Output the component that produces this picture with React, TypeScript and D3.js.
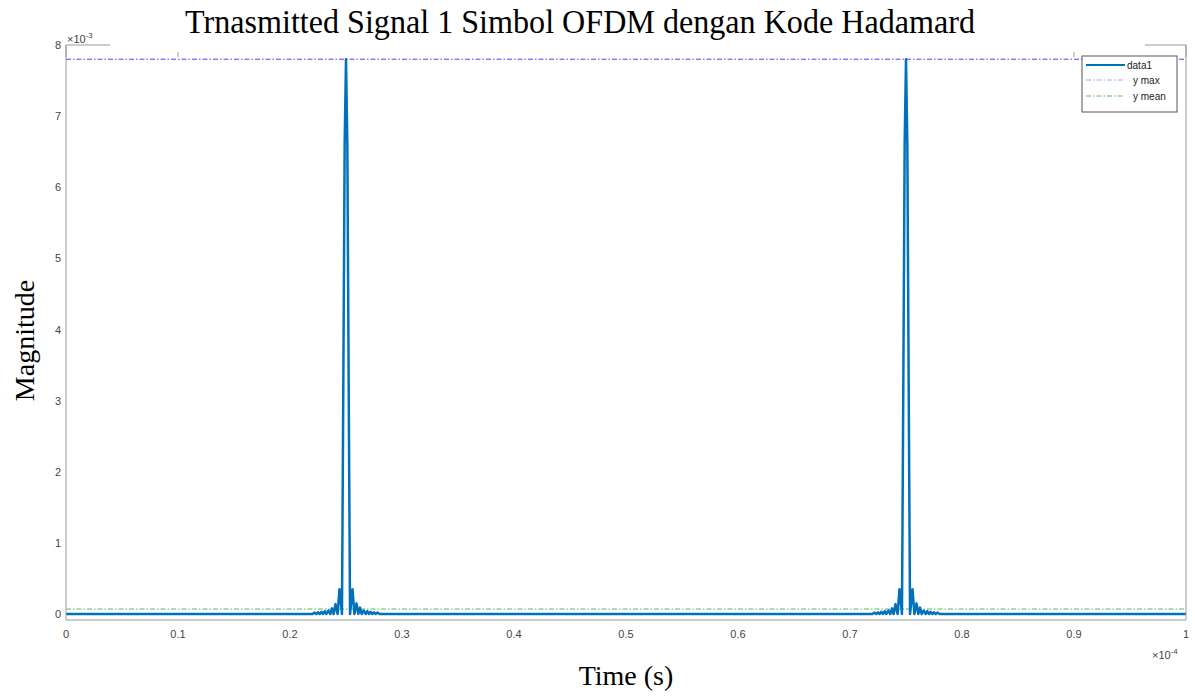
import React from "react";
import * as d3 from "d3";

// Time axis values are in units of 1e-4 s, magnitudes in units of 1e-3.
const xTicks = [0, 0.1, 0.2, 0.3, 0.4, 0.5, 0.6, 0.7, 0.8, 0.9, 1];
const yTicks = [0, 1, 2, 3, 4, 5, 6, 7, 8];

// Centres of the two pulses in the symbol.
const pulseCenters = [0.25, 0.75];

// Sample offsets around each pulse centre and the magnitude at each offset.
const pulseOffsets = [
  -0.03, -0.028, -0.0265, -0.025, -0.0235, -0.022, -0.0205, -0.019, -0.0175,
  -0.0158, -0.014, -0.0125, -0.011, -0.0094, -0.0075, -0.0058, -0.0036,
  -0.0024, -0.0012, 0, 0.0012, 0.0024, 0.0036, 0.0058, 0.0075, 0.0094, 0.011,
  0.0125, 0.014, 0.0158, 0.0175, 0.019, 0.0205, 0.022, 0.0235, 0.025, 0.0265,
  0.028, 0.03,
];
const pulseValues = [
  0.0, 0.02, 0.0, 0.025, 0.0, 0.03, 0.0, 0.04, 0.0, 0.05, 0.0, 0.08, 0.0, 0.14,
  0.0, 0.35, 0.0, 3.2, 6.6, 7.8, 6.6, 3.2, 0.0, 0.35, 0.0, 0.15, 0.0, 0.09,
  0.0, 0.05, 0.0, 0.04, 0.0, 0.03, 0.0, 0.025, 0.0, 0.02, 0.0,
];

const yMax = 7.8;
const yMean = 0.07;

const W = 1195;
const H = 696;
const left = 66;
const right = 1186;
const top = 45;
const bottom = 620;

export default function App() {
  const x = d3.scaleLinear().domain([0, 1]).range([left, right]);
  const y = d3.scaleLinear().domain([-0.084, 8]).range([bottom, top]);

  const series: [number, number][] = [[0, 0]];
  pulseCenters.forEach((c) => {
    pulseOffsets.forEach((o, i) => series.push([c + o, pulseValues[i]]));
  });
  series.push([1, 0]);

  const line = d3
    .line<[number, number]>()
    .x((d) => x(d[0]))
    .y((d) => y(d[1]));

  const axisColor = "#9a9a9a";
  const tickText = "#444";
  const sans = "'Liberation Sans', Arial, sans-serif";
  const serif = "'Liberation Serif', 'Times New Roman', serif";

  return (
    <svg
      width={W}
      height={H}
      style={{ position: "absolute", left: 0, top: 0, background: "#fff" }}
    >
      <rect x={0} y={0} width={W} height={H} fill="#fff" />

      {/* top ticks */}
      {xTicks.map((t) => (
        <line
          key={"tt" + t}
          x1={x(t)}
          x2={x(t)}
          y1={top}
          y2={top + 12}
          stroke={axisColor}
          strokeWidth={1}
        />
      ))}

      {/* reference lines */}
      <line
        x1={left}
        x2={right}
        y1={y(yMax)}
        y2={y(yMax)}
        stroke="#4646f2"
        strokeWidth={1}
        strokeDasharray="5,2,1.5,2"
      />
      <line
        x1={left}
        x2={right}
        y1={y(yMean)}
        y2={y(yMean)}
        stroke="#5cb85c"
        strokeWidth={1}
        strokeDasharray="5,2,1.5,2"
      />

      {/* signal */}
      <path
        d={line(series) || ""}
        fill="none"
        stroke="#0072BD"
        strokeWidth={2.5}
        strokeLinejoin="round"
      />

      {/* axes box */}
      <line x1={left} x2={right} y1={bottom} y2={bottom} stroke={axisColor} />
      <line x1={left} x2={left} y1={top} y2={bottom} stroke={axisColor} />
      <line x1={right} x2={right} y1={top} y2={bottom} stroke={axisColor} />
      <line x1={left} x2={110} y1={top} y2={top} stroke={axisColor} />
      <line x1={1145} x2={right} y1={top} y2={top} stroke={axisColor} />

      {/* white backdrop behind the title */}
      <rect x={110} y={0} width={1035} height={52} fill="#fff" />
      <rect x={185} y={0} width={883} height={58} fill="#fff" />

      <text
        x={185}
        y={33}
        fontFamily={serif}
        fontSize={33}
        fill="#000"
        textLength={790}
        lengthAdjust="spacingAndGlyphs"
      >
        Trnasmitted Signal 1 Simbol OFDM dengan Kode Hadamard
      </text>

      {/* x tick labels */}
      {xTicks.map((t) => (
        <text
          key={"xl" + t}
          x={x(t)}
          y={638}
          textAnchor="middle"
          fontFamily={sans}
          fontSize={11}
          fill={tickText}
        >
          {t}
        </text>
      ))}
      {/* y tick labels */}
      {yTicks.map((t) => (
        <text
          key={"yl" + t}
          x={61}
          y={y(t) + 4}
          textAnchor="end"
          fontFamily={sans}
          fontSize={11}
          fill={tickText}
        >
          {t}
        </text>
      ))}

      {/* exponent labels */}
      <text x={67} y={43} fontFamily={sans} fontSize={11} fill={tickText}>
        ×10
        <tspan dy={-5} fontSize={8}>
          -3
        </tspan>
      </text>
      <text x={1152} y={659} fontFamily={sans} fontSize={11} fill={tickText}>
        ×10
        <tspan dy={-5} fontSize={8}>
          -4
        </tspan>
      </text>

      {/* axis titles */}
      <text
        x={(left + right) / 2}
        y={685}
        textAnchor="middle"
        fontFamily={serif}
        fontSize={28}
        fill="#000"
      >
        Time (s)
      </text>
      <text
        transform={`translate(34, ${(top + bottom) / 2 + 8}) rotate(-90)`}
        textAnchor="middle"
        fontFamily={serif}
        fontSize={28}
        fill="#000"
      >
        Magnitude
      </text>

      {/* legend */}
      <g>
        <rect
          x={1082}
          y={56}
          width={95}
          height={56}
          fill="#fff"
          stroke="#555"
          strokeWidth={1}
        />
        <line x1={1086} x2={1125} y1={65} y2={65} stroke="#0072BD" strokeWidth={2} />
        <text x={1127} y={68.5} fontFamily={sans} fontSize={10} fill="#222">
          data1
        </text>
        <line
          x1={1086}
          x2={1124}
          y1={80}
          y2={80}
          stroke="#a0a0f5"
          strokeWidth={1}
          strokeDasharray="5,2,1.5,2"
        />
        <text x={1133} y={83.5} fontFamily={sans} fontSize={10} fill="#222">
          y max
        </text>
        <line
          x1={1086}
          x2={1124}
          y1={96}
          y2={96}
          stroke="#5cb85c"
          strokeWidth={1}
          strokeDasharray="5,2,1.5,2"
        />
        <text x={1133} y={99.5} fontFamily={sans} fontSize={10} fill="#222">
          y mean
        </text>
      </g>
    </svg>
  );
}
